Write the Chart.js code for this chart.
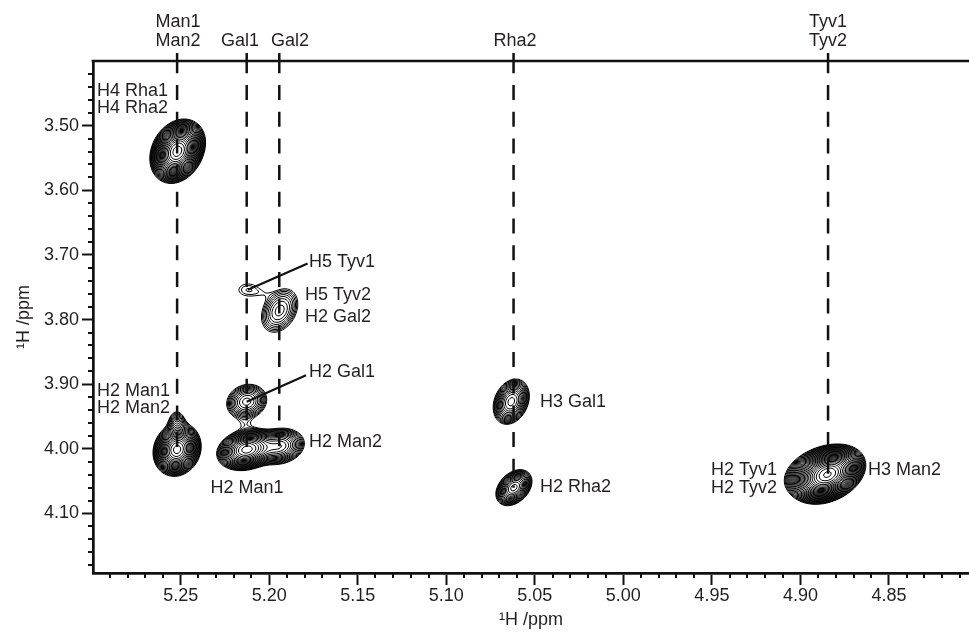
<!DOCTYPE html>
<html><head><meta charset="utf-8">
<script src="https://cdn.jsdelivr.net/npm/chart.js@4.4.1/dist/chart.umd.min.js"></script>
<style>html,body{margin:0;padding:0;background:#fff;}canvas{display:block;}</style>
</head><body>
<canvas id="c" width="969" height="632"></canvas>
<script>
// ---------- axis ranges & ticks ----------
const X_MIN = 4.8048, X_MAX = 5.2995;   // 1H ppm (reversed axis)
const Y_MIN = 3.40, Y_MAX = 4.192;      // 1H ppm (reversed axis)
const xTickValues = [5.25, 5.20, 5.15, 5.10, 5.05, 5.00, 4.95, 4.90, 4.85];
const xTickLabels = ['5.25','5.20','5.15','5.10','5.05','5.00','4.95','4.90','4.85'];
const yTickValues = [3.50, 3.60, 3.70, 3.80, 3.90, 4.00, 4.10];
const yTickLabels = ['3.50','3.60','3.70','3.80','3.90','4.00','4.10'];

// ---------- vertical assignment lines ----------
const lineNames = ['Man', 'Gal1', 'Gal2', 'Rha2', 'Tyv'];
const lineX     = [5.252, 5.2127, 5.1943, 5.062, 4.8844];
const lineEndY  = [4.001, 4.001, 3.996, 4.060, 4.040];

// ---------- top labels ----------
const topText = ['Man1', 'Man2', 'Gal1', 'Gal2', 'Rha2', 'Tyv1', 'Tyv2'];
const topX    = [5.2515, 5.2515, 5.2165, 5.1883, 5.0612, 4.8844, 4.8844];
const topY    = [3.3404, 3.3690, 3.3690, 3.3690, 3.3690, 3.3404, 3.3690];

// ---------- cross-peaks (2D Gaussian lineshapes) ----------
const peakName = ['H4 Rha','H4 Rha shoulder','H2 Man','H2 Man tip','H2 Gal1','H2 Man1','H2 Man2','bridge','H2 Gal2','H5 Tyv1','Tyv1 bridge','H3 Gal1','H2 Rha2','H2 Tyv','H2 Tyv shoulder'];
const peakX   = [5.252, 5.2475, 5.252, 5.2522, 5.2127, 5.2127, 5.1943, 5.2135, 5.1941, 5.212, 5.2035, 5.0633, 5.0618, 4.8844, 4.8905];
const peakY   = [3.540, 3.528, 4.001, 3.962, 3.927, 4.001, 3.996, 3.962, 3.786, 3.754, 3.759, 3.927, 4.060, 4.040, 4.034];
const peakSX  = [0.00530, 0.0055, 0.00498, 0.0028, 0.0058, 0.0065, 0.0066, 0.004, 0.0061, 0.0062, 0.004, 0.00466, 0.0045, 0.0070, 0.0080];
const peakSY  = [0.01700, 0.016, 0.0152, 0.012, 0.0138, 0.0125, 0.013, 0.008, 0.0200, 0.011, 0.006, 0.0160, 0.0123, 0.0150, 0.016];
const peakRho = [0.22, 0.2, 0.12, 0, 0.12, 0.2, 0.15, 0, 0.3, 0, 0, 0.25, 0.35, 0.32, 0.35];
const peakAmp = [1.36, 0.06, 0.83, 0.07, 0.134, 0.6, 0.2, 0.015, 0.082, 0.028, 0.007, 0.22, 0.26, 2.0, 0.25];
const contourBase = 0.02, contourRatio = 1.18;

// ---------- in-plot annotations ----------
const annText  = ['H4 Rha1','H4 Rha2','H2 Man1','H2 Man2','H5 Tyv1','H5 Tyv2','H2 Gal2','H2 Gal1','H2 Man2','H2 Man1','H3 Gal1','H2 Rha2','H2 Tyv1','H2 Tyv2','H3 Man2'];
const annX     = [5.2972, 5.2972, 5.2972, 5.2972, 5.1775, 5.1798, 5.1798, 5.1775, 5.1775, 5.2125, 5.0471, 5.0471, 4.9132, 4.9132, 4.8618];
const annY     = [3.4464, 3.4728, 3.9108, 3.9372, 3.7111, 3.7622, 3.7963, 3.8807, 3.9898, 4.0602, 3.9279, 4.0594, 4.0331, 4.0602, 4.0331];
const annAlign = ['left','left','left','left','left','left','left','left','left','center','left','left','right','right','left'];

// ---------- leader lines ----------
const leaderFromX = [5.212, 5.2127];
const leaderFromY = [3.754, 3.927];
const leaderToX   = [5.1783, 5.1792];
const leaderToY   = [3.7132, 3.886];

const FONT = '"Liberation Sans", Arial, Helvetica, sans-serif';
const TEXT = '#231f20';
const INK = '#111';

const datasets = [];
lineX.forEach((x, i) => {
  datasets.push({
    label: lineNames[i], showLine: true, pointRadius: 0,
    borderColor: INK, borderWidth: 2.5, borderDash: [15, 11.7], borderDashOffset: 2.7,
    data: [{x: x, y: Y_MIN}, {x: x, y: lineEndY[i]}]
  });
});
leaderFromX.forEach((x, i) => {
  datasets.push({
    label: 'leader' + i, showLine: true, pointRadius: 0,
    borderColor: INK, borderWidth: 2.2,
    data: [{x: x, y: leaderFromY[i]}, {x: leaderToX[i], y: leaderToY[i]}]
  });
});

const contourPlugin = {
  id: 'contours',
  beforeDatasetsDraw(chart) {
    const {ctx, chartArea: ca} = chart;
    const sx = chart.scales.x, sy = chart.scales.y;
    const L = Math.floor(ca.left), T = Math.floor(ca.top);
    const W = Math.ceil(ca.right) - L + 1, H = Math.ceil(ca.bottom) - T + 1;
    const F = new Float32Array(W * H);
    const xv = new Float64Array(W), yv = new Float64Array(H);
    for (let i = 0; i < W; i++) xv[i] = sx.getValueForPixel(L + i);
    for (let j = 0; j < H; j++) yv[j] = sy.getValueForPixel(T + j);
    let fmax = 0;
    for (let k = 0; k < peakX.length; k++) {
      const x0 = peakX[k], y0 = peakY[k], a = peakSX[k], b = peakSY[k], r = peakRho[k], A = peakAmp[k];
      const inv = 1 / (1 - r * r);
      const p0 = sx.getPixelForValue(x0 + 7 * a), p1 = sx.getPixelForValue(x0 - 7 * a);
      const q0 = sy.getPixelForValue(y0 - 7 * b), q1 = sy.getPixelForValue(y0 + 7 * b);
      const i0 = Math.max(0, Math.floor(Math.min(p0, p1)) - L), i1 = Math.min(W - 1, Math.ceil(Math.max(p0, p1)) - L);
      const j0 = Math.max(0, Math.floor(Math.min(q0, q1)) - T), j1 = Math.min(H - 1, Math.ceil(Math.max(q0, q1)) - T);
      for (let j = j0; j <= j1; j++) {
        const dy = (yv[j] - y0) / b;
        for (let i = i0; i <= i1; i++) {
          const dx = (xv[i] - x0) / a;
          const q = (dx * dx - 2 * r * dx * dy + dy * dy) * inv;
          const v = (F[j * W + i] += A * Math.exp(-0.5 * q));
          if (v > fmax) fmax = v;
        }
      }
    }
    ctx.save();
    ctx.beginPath();
    ctx.rect(ca.left, ca.top, ca.right - ca.left, ca.bottom - ca.top);
    ctx.clip();
    ctx.strokeStyle = '#000';
    ctx.lineWidth = 1;
    for (let lev = contourBase; lev < fmax; lev *= contourRatio) {
      ctx.beginPath();
      for (let j = 0; j < H - 1; j++) {
        const r0 = j * W, r1 = r0 + W;
        for (let i = 0; i < W - 1; i++) {
          const a = F[r0 + i], b = F[r0 + i + 1], c = F[r1 + i + 1], d = F[r1 + i];
          const idx = (a >= lev ? 8 : 0) | (b >= lev ? 4 : 0) | (c >= lev ? 2 : 0) | (d >= lev ? 1 : 0);
          if (idx === 0 || idx === 15) continue;
          const X = L + i, Y = T + j;
          const tT = () => [X + (lev - a) / (b - a), Y];
          const tR = () => [X + 1, Y + (lev - b) / (c - b)];
          const tB = () => [X + (lev - d) / (c - d), Y + 1];
          const tL = () => [X, Y + (lev - a) / (d - a)];
          const seg = (p, q) => { ctx.moveTo(p[0], p[1]); ctx.lineTo(q[0], q[1]); };
          switch (idx) {
            case 1: case 14: seg(tL(), tB()); break;
            case 2: case 13: seg(tB(), tR()); break;
            case 3: case 12: seg(tL(), tR()); break;
            case 4: case 11: seg(tT(), tR()); break;
            case 5: seg(tT(), tR()); seg(tL(), tB()); break;
            case 6: case 9: seg(tT(), tB()); break;
            case 7: case 8: seg(tT(), tL()); break;
            case 10: seg(tT(), tL()); seg(tB(), tR()); break;
          }
        }
      }
      ctx.stroke();
    }
    ctx.restore();
  }
};

const decorPlugin = {
  id: 'decor',
  afterDraw(chart) {
    const {ctx, chartArea: ca} = chart;
    const sx = chart.scales.x, sy = chart.scales.y;
    ctx.save();
    ctx.strokeStyle = INK;
    // top frame line
    ctx.lineWidth = 2.7;
    ctx.beginPath();
    ctx.moveTo(ca.left - 1.35, ca.top);
    ctx.lineTo(ca.right, ca.top);
    ctx.stroke();
    // top ticks at assignment lines
    ctx.lineWidth = 2.5;
    ctx.beginPath();
    lineX.forEach(x => {
      const px = sx.getPixelForValue(x);
      ctx.moveTo(px, ca.top - 8);
      ctx.lineTo(px, ca.top);
    });
    ctx.stroke();
    // minor ticks
    ctx.lineWidth = 2;
    ctx.beginPath();
    for (let k = 481; k <= 529; k++) {
      if (k % 5 === 0) continue;
      const px = Math.round(sx.getPixelForValue(k / 100));
      ctx.moveTo(px, ca.bottom);
      ctx.lineTo(px, ca.bottom + 5);
    }
    for (let k = 171; k <= 209; k++) {
      if (k % 5 === 0) continue;
      const py = Math.round(sy.getPixelForValue(k / 50));
      ctx.moveTo(ca.left - 5, py);
      ctx.lineTo(ca.left, py);
    }
    ctx.stroke();
    // text
    ctx.fillStyle = TEXT;
    ctx.font = '18px ' + FONT;
    ctx.textBaseline = 'middle';
    ctx.textAlign = 'center';
    topText.forEach((t, i) => {
      ctx.fillText(t, sx.getPixelForValue(topX[i]), sy.getPixelForValue(topY[i]));
    });
    annText.forEach((t, i) => {
      ctx.textAlign = annAlign[i];
      ctx.fillText(t, sx.getPixelForValue(annX[i]), sy.getPixelForValue(annY[i]));
    });
    ctx.restore();
  }
};

new Chart(document.getElementById('c').getContext('2d'), {
  type: 'scatter',
  data: { datasets },
  options: {
    responsive: false, animation: false, devicePixelRatio: 1,
    layout: { padding: { top: 61, left: 0, right: 0, bottom: 0 } },
    plugins: { legend: { display: false }, tooltip: { enabled: false } },
    scales: {
      x: {
        type: 'linear', reverse: true, min: X_MIN, max: X_MAX,
        afterBuildTicks: s => { s.ticks = xTickValues.map(v => ({ value: v })); },
        afterFit: s => { s.height = 59; },
        ticks: { callback: (v, i) => xTickLabels[i], font: { family: FONT, size: 18, lineHeight: 1.2 }, color: TEXT, padding: 0, maxRotation: 0, autoSkip: false },
        grid: { display: true, drawOnChartArea: false, drawTicks: true, tickLength: 12, tickWidth: 2, tickColor: INK },
        border: { display: true, width: 2.7, color: INK },
        title: { display: true, text: '¹H /ppm', font: { family: FONT, size: 18, lineHeight: 1.2 }, color: TEXT, padding: { top: 0, bottom: 1 } }
      },
      y: {
        type: 'linear', reverse: true, min: Y_MIN, max: Y_MAX,
        afterBuildTicks: s => { s.ticks = yTickValues.map(v => ({ value: v })); },
        afterFit: s => { s.width = 93; },
        ticks: { callback: (v, i) => yTickLabels[i], font: { family: FONT, size: 18, lineHeight: 1.2 }, color: TEXT, padding: 3, autoSkip: false },
        grid: { display: true, drawOnChartArea: false, drawTicks: true, tickLength: 11, tickWidth: 2, tickColor: INK },
        border: { display: true, width: 2.7, color: INK },
        title: { display: true, text: '¹H /ppm', font: { family: FONT, size: 18, lineHeight: 1.2 }, color: TEXT, padding: { top: 13, bottom: 0 } }
      }
    }
  },
  plugins: [contourPlugin, decorPlugin]
});
</script>
</body></html>
